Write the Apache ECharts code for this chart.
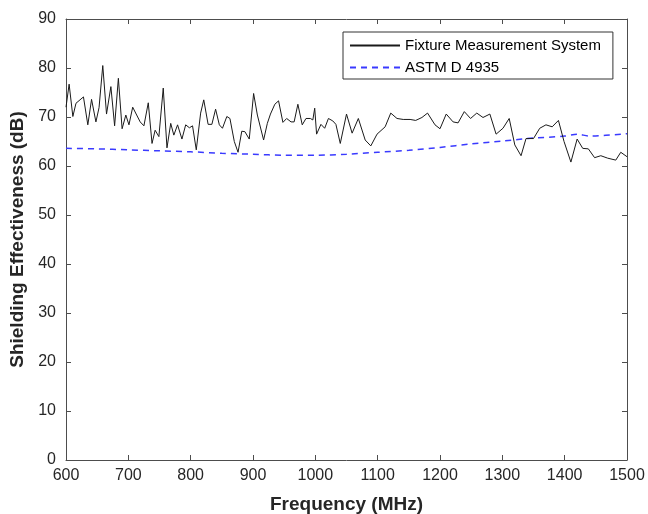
<!DOCTYPE html>
<html><head><meta charset="utf-8">
<script src="https://cdn.jsdelivr.net/npm/echarts@6/dist/echarts.min.js"></script>
<style>html,body{margin:0;padding:0;background:#fff}#c{width:648px;height:514px}</style>
</head><body><div id="c"></div>
<script>
const xTicks = [600,700,800,900,1000,1100,1200,1300,1400,1500];
const yTicks = [0,10,20,30,40,50,60,70,80,90];
const fixtureFreq = [600,605,611,616,628,635,641,648,653,659,665,672,678,684,690,696,701,707,719,725,732,738,743,749,756,762,768,773,779,786,792,798,803,809,816,821,828,834,840,846,851,858,863,870,876,882,887,894,901,907,917,923,928,935,941,948,954,961,966,972,979,985,992,996,999,1002,1009,1015,1021,1028,1033,1040,1050,1059,1069,1080,1089,1099,1112,1121,1131,1141,1152,1161,1171,1180,1192,1200,1210,1221,1229,1239,1249,1259,1269,1280,1290,1301,1311,1320,1330,1338,1350,1360,1370,1380,1390,1399,1410,1420,1429,1438,1448,1458,1469,1482,1490,1500];
const fixtureVal = [72.0,76.7,70.1,72.8,74.1,68.4,73.6,69.0,71.9,80.5,70.6,76.2,68.2,77.9,67.6,70.4,68.4,72.0,69.0,68.2,72.9,64.6,67.3,66.0,75.9,63.7,68.7,66.3,68.4,65.5,68.4,67.8,68.2,63.3,70.8,73.5,68.5,68.5,71.6,68.4,67.7,70.1,69.7,65.0,62.8,67.1,67.0,65.5,74.8,70.4,65.3,68.7,70.6,72.6,73.3,68.9,69.7,69.0,69.0,72.6,68.4,69.7,69.7,69.4,71.8,66.5,68.5,67.7,69.7,69.2,68.5,64.6,70.6,66.7,69.7,65.3,64.1,66.5,68.0,70.8,69.7,69.5,69.5,69.3,69.9,70.8,68.4,67.6,70.6,69.0,68.8,71.1,69.7,70.8,69.9,70.6,66.5,67.7,69.7,64.3,62.1,65.6,65.6,67.7,68.4,68.0,69.3,65.0,60.8,65.5,63.6,63.5,61.7,62.1,61.6,61.2,62.8,61.9];
const astmFreq = [600,650,700,750,800,850,900,950,1000,1050,1100,1150,1200,1250,1300,1350,1400,1420,1440,1500];
const astmVal = [63.6,63.5,63.3,63.1,62.9,62.6,62.4,62.2,62.2,62.4,62.8,63.2,63.8,64.5,65.1,65.7,66.1,66.5,66.1,66.6];

const fixture = fixtureFreq.map((f,i)=>[f,fixtureVal[i]]);
const astm = astmFreq.map((f,i)=>[f,astmVal[i]]);
const FONT = 'Liberation Sans, Arial, sans-serif';
const AX = '#4d4d4d';
const chart = echarts.init(document.getElementById('c'), null, {renderer:'canvas'});
const baseX = {type:'value', min:600, max:1500, interval:100, splitLine:{show:false},
  axisLine:{show:true, onZero:false, lineStyle:{color:AX, width:1}},
  axisTick:{show:true, inside:true, length:5, lineStyle:{color:AX}}};
const baseY = {type:'value', min:0, max:90, interval:10, splitLine:{show:false},
  axisLine:{show:true, onZero:false, lineStyle:{color:AX, width:1}},
  axisTick:{show:true, inside:true, length:5, lineStyle:{color:AX}}};
chart.setOption({
  animation:false,
  textStyle:{fontFamily:FONT},
  grid:{left:66, right:21, top:19, bottom:54, containLabel:false, outerBoundsMode:'none'},
  xAxis:[
    Object.assign({}, baseX, {position:'bottom', name:'Frequency (MHz)', nameLocation:'middle', nameGap:35,
      nameTextStyle:{fontSize:19, fontWeight:'bold', color:'#262626', fontFamily:FONT},
      axisLabel:{fontSize:16, color:'#262626', margin:8, fontFamily:FONT,
        formatter:v=>xTicks.includes(v)?String(v):''}}),
    Object.assign({}, baseX, {position:'top', axisLabel:{show:false}})
  ],
  yAxis:[
    Object.assign({}, baseY, {position:'left', name:'Shielding Effectiveness (dB)', nameLocation:'middle', nameGap:34,
      nameTextStyle:{fontSize:19, fontWeight:'bold', color:'#262626', fontFamily:FONT},
      axisLabel:{fontSize:16, color:'#262626', margin:10, fontFamily:FONT,
        formatter:v=>yTicks.includes(v)?String(v):''}}),
    Object.assign({}, baseY, {position:'right', axisLabel:{show:false}})
  ],
  legend:{left:343, top:32, orient:'vertical', itemWidth:50, itemHeight:14, itemGap:7,
    padding:[6,12,4,6], backgroundColor:'#fff', borderColor:'#333', borderWidth:1,
    itemStyle:{opacity:0},
    textStyle:{fontSize:15, color:'#000', fontFamily:FONT},
    data:['Fixture Measurement System','ASTM D 4935']},
  series:[
    {name:'Fixture Measurement System', type:'line', data:fixture, symbol:'none', showSymbol:false,
      lineStyle:{color:'#1a1a1a', width:1}, itemStyle:{color:'#1a1a1a'}, z:3},
    {name:'ASTM D 4935', type:'line', data:astm, symbol:'none', showSymbol:false, smooth:0.3,
      lineStyle:{color:'#3a3aff', width:1.5, type:[6,5]}, itemStyle:{color:'#3a3aff'}, z:2}
  ]
});
</script></body></html>
